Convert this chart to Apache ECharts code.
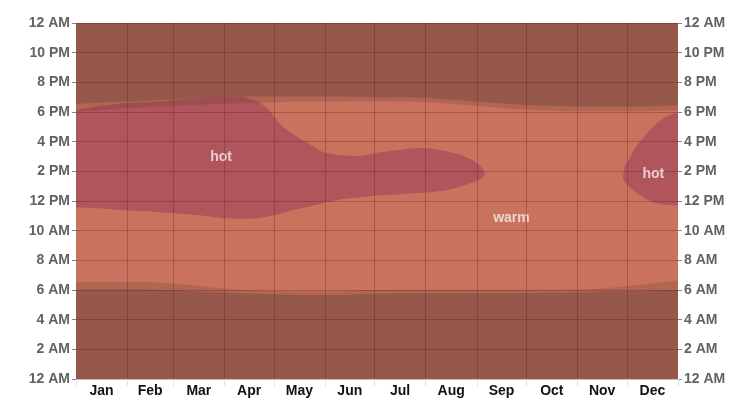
<!DOCTYPE html>
<html>
<head>
<meta charset="utf-8">
<script src="https://cdn.jsdelivr.net/npm/echarts@6/dist/echarts.min.js"></script>
<style>html,body{margin:0;padding:0;background:#fff;}#c{width:753px;height:407px;}</style>
</head>
<body>
<div id="c"></div>
<script>
// ---- data ----
const monthNames = ['Jan','Feb','Mar','Apr','May','Jun','Jul','Aug','Sep','Oct','Nov','Dec'];
const monthStarts = [0,31,59,90,120,151,181,212,243,273,304,334,365];
const hourLabels = ['12 AM','2 AM','4 AM','6 AM','8 AM','10 AM','12 PM','2 PM','4 PM','6 PM','8 PM','10 PM','12 AM'];

// daylight boundaries (hour of day) at each month start
const sunsetHour    = [18.05,18.25,18.40,18.55,18.65,18.70,18.70,18.65,18.40,18.15,18.05,18.05,18.10];
const duskEndHour   = [18.55,18.70,18.85,19.00,19.05,19.05,19.00,18.95,18.70,18.47,18.37,18.35,18.45];
const dawnStartHour = [6.04,6.04,5.98,5.82,5.71,5.66,5.75,5.77,5.78,5.80,5.83,5.93,6.02];
const sunriseHour   = [6.52,6.54,6.43,6.09,5.93,5.89,6.00,6.01,6.02,6.02,6.04,6.25,6.65];

// "hot" region, Jan–Aug (day of year, hour)
const hotADaysTop = [0,14.3,29.4,44.6,59.8,74.9,84.0,91.9,102.2,110.1,116.2,121.7,126.5,130.8,135.6,140.5,149.6,159.9,172.0,184.2,196.3,204.2,214.5,224.8,233.9,240.6,244.8,247.3,247.9];
const hotATop     = [18.13,18.40,18.60,18.67,18.80,18.94,19.02,19.05,19.00,18.74,18.26,17.45,16.91,16.57,16.23,15.90,15.29,15.09,15.02,15.29,15.43,15.56,15.56,15.36,15.09,14.75,14.41,14.01,13.74];
const hotADaysBot = [0,14.3,29.4,44.6,59.8,74.9,90.1,99.2,110.1,120.4,130.8,142.2,151.3,160.5,172.0,184.2,196.3,204.2,214.5,224.8,233.9,240.6,244.8,247.9];
const hotABot     = [11.58,11.51,11.38,11.31,11.18,11.04,10.84,10.80,10.84,11.04,11.38,11.65,11.92,12.12,12.25,12.39,12.46,12.52,12.59,12.73,13.00,13.27,13.47,13.74];

// "hot" region, December
const hotBDaysTop = [331.6,332.8,335.9,338.9,341.9,344.9,347.9,352.2,357.1,361.3,365];
const hotBTop     = [13.60,14.41,14.89,15.56,15.97,16.37,16.78,17.25,17.66,17.86,17.93];
const hotBDaysBot = [331.6,332.8,335.9,340.1,344.9,349.7,355.3,360.1,365];
const hotBBot     = [13.60,13.27,12.93,12.52,12.19,11.92,11.78,11.71,11.71];

// band labels
const bandLabels = [
  {name:'hot',  day:88,  hour:14.96},
  {name:'hot',  day:350, hour:13.84},
  {name:'warm', day:264, hour:10.87}
];

// ---- styles ----
const WARM = '#C9725D', HOT = '#B0555B', NIGHT = '#95584A';
const TWILIGHT = 'rgba(70,40,35,0.17)';
const GRIDC = 'rgba(80,30,25,0.3)';
const FONT = '"Liberation Sans","Arial",sans-serif';

const monthMids = monthNames.map((m,i)=> (monthStarts[i]+monthStarts[i+1])/2);

function zip(xs, ys){ return xs.map((x,i)=>[x, ys[i]]); }

function polygonSeries(daysTop, top, daysBot, bot, color){
  return {
    type:'custom', coordinateSystem:'cartesian2d', silent:true, z:2,
    data:[[0,0]],
    renderItem: function(params, api){
      const pts = [];
      for (let i=0;i<daysTop.length;i++) pts.push(api.coord([daysTop[i], top[i]]));
      for (let i=daysBot.length-1;i>=0;i--) pts.push(api.coord([daysBot[i], bot[i]]));
      return {type:'polygon', shape:{points:pts}, style:{fill:color}};
    }
  };
}

function areaSeries(values, origin, color){
  return {
    type:'line', silent:true, z:2, smooth:0.4, symbol:'none',
    data: zip(monthStarts, values),
    lineStyle:{width:0, opacity:0},
    areaStyle:{color:color, opacity:1, origin:origin}
  };
}

const yAxisBase = {
  type:'value', min:0, max:24, interval:2, z:3,
  axisLine:{show:false},
  axisTick:{show:true, length:4, lineStyle:{color:'#888'}},
  axisLabel:{
    color:'#626262', fontWeight:'bold', fontSize:14, fontFamily:FONT, margin:6,
    formatter: v => hourLabels[Math.round(v/2)]
  }
};

const option = {
  animation:false,
  backgroundColor:'#ffffff',
  grid:{left:76, right:75, top:23, bottom:28, show:true, backgroundColor:WARM, borderWidth:0},
  xAxis:{
    type:'value', min:0, max:365, z:3,
    splitLine:{show:false},
    axisLine:{show:false},
    axisTick:{show:true, customValues:monthStarts, length:7, lineStyle:{color:'#e2e2e2'}},
    axisLabel:{
      customValues:monthMids, color:'#111', fontWeight:'bold', fontSize:14, fontFamily:FONT, margin:5,
      formatter: v => { const i = monthMids.findIndex(m=>Math.abs(m-v)<0.01); return i>=0 ? monthNames[i] : ''; }
    }
  },
  yAxis:[
    Object.assign({}, yAxisBase, {position:'left', splitLine:{show:true, lineStyle:{color:GRIDC, width:1}}}),
    Object.assign({}, yAxisBase, {position:'right', splitLine:{show:false}})
  ],
  series:[
    polygonSeries(hotADaysTop, hotATop, hotADaysBot, hotABot, HOT),
    polygonSeries(hotBDaysTop, hotBTop, hotBDaysBot, hotBBot, HOT),
    areaSeries(sunsetHour, 'end', TWILIGHT),
    areaSeries(sunriseHour, 'start', TWILIGHT),
    areaSeries(duskEndHour, 'end', NIGHT),
    areaSeries(dawnStartHour, 'start', NIGHT),
    {
      type:'scatter', z:4, silent:true, symbolSize:0,
      data: bandLabels.map(b=>({name:b.name, value:[b.day, b.hour]})),
      label:{show:true, position:'inside', formatter:'{b}', color:'#f7ecec', fontWeight:'bold', fontSize:14, fontFamily:FONT},
      markLine:{
        silent:true, symbol:'none', label:{show:false},
        lineStyle:{color:GRIDC, width:1, type:'solid'},
        data: monthStarts.slice(1,12).map(d=>({xAxis:d}))
      }
    }
  ]
};

const chart = echarts.init(document.getElementById('c'));
chart.setOption(option);
</script>
</body>
</html>
